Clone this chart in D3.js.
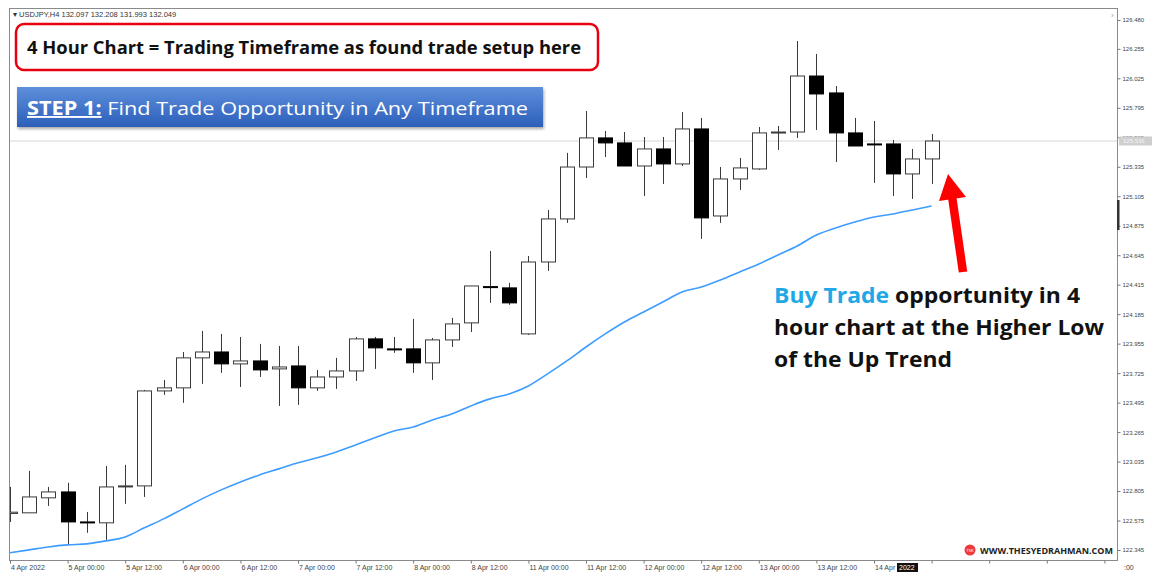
<!DOCTYPE html>
<html>
<head>
<meta charset="utf-8">
<script src="https://cdnjs.cloudflare.com/ajax/libs/d3/7.8.5/d3.min.js"></script>
<style>
	body { margin: 0; background: #fff; }
	.axis-label { font-family: "Liberation Sans", Arial, sans-serif; font-size: 6px; fill: #444; }
	.xlab { font-size: 7px; }
	.note { font-family: "Open Sans", sans-serif; }
</style>
</head>
<body>
<svg width="1152" height="574"></svg>
<script>
// candle data, USDJPY H4
const open  = [122.630,122.635,122.752,122.798,122.564,122.557,122.837,122.845,123.586,123.610,
               123.844,123.890,123.797,123.820,123.758,123.781,123.610,123.695,123.742,123.992,
               123.914,123.914,123.805,123.984,124.117,124.400,124.390,124.031,124.592,124.928,
               125.333,125.560,125.521,125.341,125.474,125.357,125.630,124.951,125.240,125.318,
               125.600,125.606,126.043,125.911,125.599,125.513,125.513,125.279,125.396];
const high  = [122.837,122.962,122.837,122.869,122.642,123.001,123.009,123.594,123.672,123.890,
               124.054,124.031,124.007,123.953,123.937,123.937,123.750,123.844,124.007,124.007,
               124.007,124.148,123.999,124.156,124.405,124.678,124.429,124.639,124.998,125.443,
               125.770,125.614,125.606,125.567,125.567,125.762,125.716,125.333,125.404,125.645,
               125.653,126.316,126.215,125.965,125.716,125.692,125.544,125.474,125.591];
const low   = [122.564,122.635,122.689,122.385,122.479,122.424,122.705,122.759,123.555,123.493,
               123.641,123.727,123.617,123.695,123.469,123.477,123.586,123.602,123.664,123.758,
               123.883,123.727,123.672,123.929,124.046,124.273,124.257,124.023,124.522,124.897,
               125.248,125.411,125.341,125.107,125.201,125.341,124.772,124.897,125.154,125.310,
               125.466,125.560,125.622,125.372,125.497,125.209,125.107,125.084,125.201];
const close = [122.640,122.759,122.798,122.564,122.560,122.837,122.845,123.586,123.610,123.844,
               123.890,123.797,123.820,123.750,123.773,123.610,123.695,123.742,123.992,123.922,
               123.910,123.805,123.984,124.109,124.405,124.395,124.273,124.592,124.928,125.333,
               125.560,125.521,125.341,125.474,125.357,125.630,124.936,125.240,125.326,125.599,
               125.606,126.043,125.903,125.599,125.497,125.510,125.279,125.396,125.536];
// moving average
const ma    = [122.323,122.346,122.369,122.385,122.393,122.416,122.447,122.518,122.588,122.666,
               122.744,122.814,122.876,122.931,122.978,123.025,123.064,123.110,123.165,123.220,
               123.274,123.305,123.360,123.407,123.469,123.524,123.563,123.625,123.719,123.820,
               123.929,124.031,124.124,124.202,124.280,124.358,124.397,124.452,124.514,124.577,
               124.647,124.717,124.803,124.858,124.904,124.943,124.967,124.998,125.029];

const yTicks = [126.480,126.255,126.025,125.795,125.565,125.335,125.105,124.875,124.645,124.415,
                124.185,123.955,123.725,123.495,123.265,123.035,122.805,122.575,122.345];
const xTickLabels = ["4 Apr 2022","5 Apr 00:00","5 Apr 12:00","6 Apr 00:00","6 Apr 12:00",
                     "7 Apr 00:00","7 Apr 12:00","8 Apr 00:00","8 Apr 12:00","11 Apr 00:00",
                     "11 Apr 12:00","12 Apr 00:00","12 Apr 12:00","13 Apr 00:00","13 Apr 12:00","14 Apr"];
const lastPrice = "125.536";

let svg = d3.select("svg"),
	plot = {left: 10, right: 1118, top: 9, bottom: 561};

let x = d3.scaleLinear().domain([0, 48]).range([10, 931.6]),
	y = d3.scaleLinear().domain([122.345, 126.480]).range([550, 20]);

let candles = open.map((o, i) => ({i: i, o: o, h: high[i], l: low[i], c: close[i]}));

svg.append("rect").attr("width", 1152).attr("height", 574).attr("fill", "#fff");

svg.append("defs").append("clipPath").attr("id", "clip")
	.append("rect")
	.attr("x", plot.left).attr("y", plot.top)
	.attr("width", plot.right - plot.left).attr("height", plot.bottom - plot.top);

//current price line
svg.append("line")
	.attr("x1", plot.left).attr("x2", plot.right)
	.attr("y1", y(+lastPrice)).attr("y2", y(+lastPrice))
	.attr("stroke", "#d6d6d6").attr("stroke-width", 1);

let g = svg.append("g").attr("clip-path", "url(#clip)");

//wicks
g.selectAll(".wick")
	.data(candles)
	.enter().append("line")
	.attr("class", "wick")
	.attr("x1", d => Math.round(x(d.i)) + 0.5)
	.attr("x2", d => Math.round(x(d.i)) + 0.5)
	.attr("y1", d => y(d.h))
	.attr("y2", d => y(d.l))
	.attr("stroke", "#3a3a3a").attr("stroke-width", 1);

//bodies
let bw = 14;
g.selectAll(".body")
	.data(candles)
	.enter().append("rect")
	.attr("class", "body")
	.attr("x", d => Math.round(x(d.i)) - bw / 2 + 0.5)
	.attr("y", d => y(Math.max(d.o, d.c)))
	.attr("width", bw)
	.attr("height", d => Math.max(1, Math.abs(y(d.o) - y(d.c))))
	.attr("fill", d => d.c < d.o ? "#000" : "#fff")
	.attr("stroke", d => d.c < d.o ? "#000" : "#3a3a3a")
	.attr("stroke-width", 1);

//moving average
g.append("path")
	.datum(ma)
	.attr("fill", "none")
	.attr("stroke", "#3d9cff")
	.attr("stroke-width", 1.6)
	.attr("d", d3.line().x((d, i) => x(i)).y(d => y(d)).curve(d3.curveMonotoneX));

//frame
svg.append("rect")
	.attr("x", plot.left - 0.5).attr("y", plot.top - 0.5)
	.attr("width", plot.right - plot.left).attr("height", plot.bottom - plot.top)
	.attr("fill", "none").attr("stroke", "#8a8a8a").attr("stroke-width", 1);

//y axis
let yAxis = svg.append("g")
	.attr("transform", "translate(" + (plot.right - 0.5) + ",0)")
	.call(d3.axisRight(y).tickValues(yTicks).tickFormat(d3.format(".3f")).tickSize(3).tickPadding(2));
yAxis.select(".domain").remove();
yAxis.selectAll("line").attr("stroke", "#777");
yAxis.selectAll("text").attr("class", "axis-label").attr("font-size", null).attr("font-family", null);

//last price tag
svg.append("rect").attr("x", plot.right + 1).attr("y", y(+lastPrice) - 4.5)
	.attr("width", 33).attr("height", 9).attr("fill", "#cfcfcf");
svg.append("text").attr("class", "axis-label")
	.attr("x", plot.right + 5).attr("y", y(+lastPrice) + 2.2)
	.style("fill", "#f4f4f4").text(lastPrice);
svg.append("rect").attr("x", plot.right - 1).attr("y", 200)
	.attr("width", 2.5).attr("height", 30).attr("fill", "#333");

//x axis
let xTickIdx = d3.range(0, 58, 3);
let xAxis = svg.append("g")
	.attr("transform", "translate(0," + (plot.bottom - 0.5) + ")")
	.call(d3.axisBottom(x).tickValues(xTickIdx).tickSize(3).tickFormat(""));
xAxis.select(".domain").remove();
xAxis.selectAll("line").attr("stroke", "#777");
svg.selectAll(".xlab")
	.data(xTickLabels)
	.enter().append("text")
	.attr("class", "axis-label xlab")
	.attr("x", (d, i) => x(i * 3) + 1)
	.attr("y", 570)
	.text(d => d);
svg.append("rect").attr("x", 897).attr("y", 563).attr("width", 21).attr("height", 9).attr("fill", "#111");
svg.append("text").attr("class", "axis-label xlab").attr("x", 899).attr("y", 570).style("fill", "#fff").text("2022");
svg.append("text").attr("class", "axis-label xlab").attr("x", 1124).attr("y", 570).text(":00");

//header
svg.append("text").attr("class", "axis-label")
	.attr("x", 13).attr("y", 17).style("font-size", "7.5px").style("fill", "#333")
	.text("\u25BE USDJPY,H4  132.097 132.208 131.993 132.049");
svg.append("text").attr("class", "axis-label")
	.attr("x", 1111).attr("y", 18).style("font-size", "8px").style("fill", "#999").text("\u203A");

//red title box
svg.append("rect")
	.attr("x", 16).attr("y", 24).attr("width", 582).attr("height", 46).attr("rx", 8)
	.attr("fill", "#fff").attr("stroke", "#e80010").attr("stroke-width", 2.5);
svg.append("text").attr("class", "note")
	.attr("x", 27).attr("y", 54)
	.attr("font-size", 18).attr("font-weight", 700).attr("fill", "#111")
	.attr("textLength", 554).attr("lengthAdjust", "spacingAndGlyphs")
	.text("4 Hour Chart = Trading Timeframe as found trade setup here");

//blue step box
let grad = svg.select("defs").append("linearGradient").attr("id", "blue").attr("x1", 0).attr("x2", 0).attr("y1", 0).attr("y2", 1);
grad.append("stop").attr("offset", "0%").attr("stop-color", "#5d8fdc");
grad.append("stop").attr("offset", "100%").attr("stop-color", "#2d5fba");
let sh = svg.select("defs").append("filter").attr("id", "shadow").attr("x", "-5%").attr("y", "-20%").attr("width", "110%").attr("height", "150%");
sh.append("feDropShadow").attr("dx", 1).attr("dy", 2).attr("stdDeviation", 1.5).attr("flood-color", "#000").attr("flood-opacity", 0.35);
svg.append("rect")
	.attr("x", 17).attr("y", 87).attr("width", 526).attr("height", 40)
	.attr("fill", "url(#blue)").attr("filter", "url(#shadow)");
let step = svg.append("text").attr("class", "note")
	.attr("x", 27).attr("y", 115).attr("font-size", 19).attr("fill", "#fff")
	.attr("textLength", 501).attr("lengthAdjust", "spacingAndGlyphs");
step.append("tspan").attr("font-weight", 700).attr("text-decoration", "underline").text("STEP 1:");
step.append("tspan").text(" Find Trade Opportunity in Any Timeframe");

//arrow
svg.append("line")
	.attr("x1", 963).attr("y1", 272).attr("x2", 952).attr("y2", 196)
	.attr("stroke", "#ff0000").attr("stroke-width", 8.5);
svg.append("polygon")
	.attr("points", "948,174 939,201 966,197")
	.attr("fill", "#ff0000");

//annotation
let lines = [
	{parts: [{t: "Buy Trade", c: "#1ea8e6"}, {t: " opportunity in 4", c: "#111"}], w: 306},
	{parts: [{t: "hour chart at the Higher Low", c: "#111"}], w: 330},
	{parts: [{t: "of the Up Trend", c: "#111"}], w: 178}
];
lines.forEach((ln, k) => {
	let t = svg.append("text").attr("class", "note")
		.attr("x", 774).attr("y", 303 + k * 32)
		.attr("font-size", 21).attr("font-weight", 700)
		.attr("textLength", ln.w).attr("lengthAdjust", "spacingAndGlyphs");
	ln.parts.forEach(p => t.append("tspan").attr("fill", p.c).text(p.t));
});

//watermark
svg.append("circle").attr("cx", 970).attr("cy", 550).attr("r", 5.5).attr("fill", "#f0393c");
svg.append("text").attr("x", 970).attr("y", 551.5).attr("text-anchor", "middle")
	.attr("font-family", "Liberation Sans").attr("font-size", 3.5).attr("fill", "#fff").text("TSR");
svg.append("text")
	.attr("x", 980).attr("y", 553.5)
	.attr("font-family", "Open Sans").attr("font-weight", 700).attr("font-size", 9).attr("fill", "#222")
	.attr("textLength", 133).attr("lengthAdjust", "spacingAndGlyphs")
	.text("WWW.THESYEDRAHMAN.COM");
</script>
</body>
</html>
